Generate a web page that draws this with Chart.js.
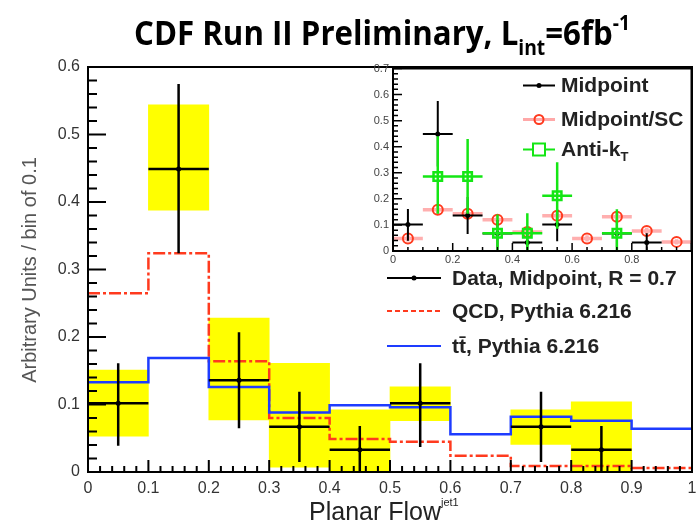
<!DOCTYPE html>
<html lang="en">
<head>
<meta charset="UTF-8">
<title>CDF Run II - Planar Flow</title>
<script src="https://cdn.jsdelivr.net/npm/chart.js"></script>
<style>
    body { margin: 0; background: #fff; }
    #wrap { position: relative; width: 700px; height: 524px; }
    #main { position: absolute; left: 0; top: 0; }
    #inset { position: absolute; left: 355px; top: 60px; }
</style>
</head>
<body>
<div id="wrap">
    <canvas id="main" width="700" height="524"></canvas>
    <canvas id="inset" width="345" height="211"></canvas>
</div>
<script>
// bins of planar flow (width 0.1)
const binLo = [0, 0.1, 0.2, 0.3, 0.4, 0.5, 0.6, 0.7, 0.8, 0.9];
const binCenters = [0.05, 0.15, 0.25, 0.35, 0.45, 0.55, 0.65, 0.75, 0.85, 0.95];
const binWidth = 0.1;

// data, midpoint R=0.7 (null = empty bin)
const dataVal = [0.102, 0.449, 0.136, 0.067, 0.033, 0.102, null, 0.067, 0.033, null];
const statLo  = [0.039, 0.324, 0.065, 0.015, 0.000, 0.037, null, 0.015, 0.000, null];
const statHi  = [0.161, 0.575, 0.207, 0.119, 0.068, 0.161, null, 0.119, 0.068, null];
// yellow systematic band
const systLo  = [0.053, 0.388, 0.077, 0.007, 0.002, 0.076, null, 0.041, 0.002, null];
const systHi  = [0.151, 0.544, 0.228, 0.161, 0.092, 0.126, null, 0.092, 0.104, null];

// Pythia 6.216 predictions
const qcd   = [0.265, 0.324, 0.164, 0.080, 0.049, 0.045, 0.024, 0.009, 0.009, 0.006];
const ttbar = [0.133, 0.169, 0.126, 0.088, 0.099, 0.096, 0.056, 0.082, 0.076, 0.064];

// inset: jet algorithm comparison
const scVal  = [0.048, 0.158, 0.143, 0.120, 0.073, 0.135, 0.048, 0.131, 0.077, 0.035];
const scErr  = [0.012, 0.015, 0.015, 0.015, 0.012, 0.015, 0.012, 0.015, 0.012, 0.010];
const aktVal = [null, 0.286, 0.286, 0.068, 0.068, 0.212, null, 0.068, null, null];
const aktLo  = [null, 0.143, 0.143, 0.000, 0.000, 0.085, null, 0.000, null, null];
const aktHi  = [null, 0.440, 0.430, 0.140, 0.145, 0.340, null, 0.160, null, null];

const mainTicks = [0, 0.1, 0.2, 0.3, 0.4, 0.5, 0.6, 0.7, 0.8, 0.9, 1];

const RED = '#ff3a1e';
const BLUE = '#1e3cff';
const GREEN = '#14e614';
const FONT = '"Liberation Sans", Arial, sans-serif';

function fmt(v) {
    return v === 0 ? '0' : String(+v.toFixed(1));
}

// histogram outline: left edge of every bin plus the right edge of the last one
function stepPoints(vals) {
    const pts = binLo.map((x, i) => ({ x: x, y: vals[i] }));
    pts.push({ x: binLo[binLo.length - 1] + binWidth, y: vals[vals.length - 1] });
    return pts;
}

// horizontal bin-width bar + vertical error bar, separated with gaps
function crossPoints(vals, lo, hi) {
    const pts = [];
    vals.forEach((v, i) => {
        if (v == null) return;
        const c = binCenters[i];
        pts.push({ x: c - binWidth / 2, y: v }, { x: c + binWidth / 2, y: v }, { x: c, y: null });
        pts.push({ x: c, y: lo[i] }, { x: c, y: hi[i] }, { x: c, y: null });
    });
    return pts;
}

function centerPoints(vals) {
    return vals.map((v, i) => ({ x: binCenters[i], y: v })).filter(p => p.y != null);
}

// ROOT style frame with inward ticks
function rootAxes(o) {
    return {
        id: 'rootAxes',
        afterDatasetsDraw(chart) {
            const { ctx, chartArea: a, scales: { x, y } } = chart;
            ctx.save();
            ctx.strokeStyle = '#000';
            ctx.lineWidth = o.tickW;
            ctx.beginPath();
            const nx = Math.round((x.max - x.min) / o.xStep);
            for (let i = 0; i <= nx; i++) {
                const px = x.getPixelForValue(x.min + i * o.xStep);
                const len = i % o.xEvery === 0 ? o.xMajor : o.xMinor;
                ctx.moveTo(px, a.bottom);
                ctx.lineTo(px, a.bottom - len);
            }
            const ny = Math.round((y.max - y.min) / o.yStep);
            for (let i = 0; i <= ny; i++) {
                const py = y.getPixelForValue(y.min + i * o.yStep);
                const len = i % o.yEvery === 0 ? o.yMajor : o.yMinor;
                ctx.moveTo(a.left, py);
                ctx.lineTo(a.left + len, py);
            }
            ctx.stroke();
            ctx.lineWidth = o.frame;
            ctx.strokeRect(a.left, a.top, a.right - a.left, a.bottom - a.top);
            ctx.restore();
        }
    };
}

// fixed axis sizes so the plot frame lands where the reference has it
function fixSize(prop, size) {
    return function (s) {
        s[prop] = size;
        s.paddingTop = 0; s.paddingBottom = 0; s.paddingLeft = 0; s.paddingRight = 0;
    };
}

// draw text pieces (sub/superscripts) in a row
function drawRich(ctx, parts, x, y) {
    let cx = x;
    parts.forEach(p => {
        ctx.font = p.font;
        ctx.fillText(p.t, cx, y + (p.dy || 0));
        cx += ctx.measureText(p.t).width;
    });
    return cx;
}
function richWidth(ctx, parts) {
    let w = 0;
    parts.forEach(p => { ctx.font = p.font; w += ctx.measureText(p.t).width; });
    return w;
}

const mainText = {
    id: 'mainText',
    afterDraw(chart) {
        const ctx = chart.ctx;
        ctx.save();
        ctx.fillStyle = '#000';
        ctx.textBaseline = 'alphabetic';
        ctx.textAlign = 'left';

        // title
        const big = 'bold 34px "Open Sans", sans-serif';
        const small = 'bold 21px "Open Sans", sans-serif';
        const title = [
            { t: 'CDF Run II Preliminary, L', font: big },
            { t: 'int', font: small, dy: 10 },
            { t: '=6fb', font: big },
            { t: '-1', font: small, dy: -15 }
        ];
        const tw = richWidth(ctx, title);
        ctx.translate(134, 45);
        ctx.scale(496 / tw, 1);
        drawRich(ctx, title, 0, 0);
        ctx.setTransform(1, 0, 0, 1, 0, 0);

        // x axis title
        ctx.fillStyle = '#222';
        const xt = [
            { t: 'Planar Flow', font: '25px ' + FONT },
            { t: 'jet1', font: '11px ' + FONT, dy: -14 }
        ];
        drawRich(ctx, xt, 309, 520);

        // y axis title
        ctx.fillStyle = '#555';
        ctx.translate(30, 270);
        ctx.rotate(-Math.PI / 2);
        ctx.textAlign = 'center';
        ctx.textBaseline = 'middle';
        ctx.font = '20px ' + FONT;
        ctx.fillText('Arbitrary Units / bin of 0.1', 0, 0);
        ctx.setTransform(1, 0, 0, 1, 0, 0);

        // legend
        ctx.textAlign = 'left';
        ctx.textBaseline = 'middle';
        ctx.font = 'bold 21px ' + FONT;
        ctx.lineWidth = 2;

        ctx.strokeStyle = '#000';
        ctx.beginPath(); ctx.moveTo(387, 278); ctx.lineTo(441, 278); ctx.stroke();
        ctx.beginPath(); ctx.arc(414, 278, 2.5, 0, Math.PI * 2); ctx.fillStyle = '#000'; ctx.fill();

        ctx.strokeStyle = RED;
        ctx.setLineDash([5, 3]);
        ctx.beginPath(); ctx.moveTo(387, 311); ctx.lineTo(441, 311); ctx.stroke();
        ctx.setLineDash([]);

        ctx.strokeStyle = BLUE;
        ctx.beginPath(); ctx.moveTo(387, 346); ctx.lineTo(441, 346); ctx.stroke();

        ctx.fillStyle = '#222';
        ctx.fillText('Data, Midpoint, R = 0.7', 452, 279);
        ctx.fillText('QCD, Pythia 6.216', 452, 312);
        ctx.fillText('tt\u0304, Pythia 6.216', 452, 347);
        ctx.restore();
    }
};

const insetLegend = {
    id: 'insetLegend',
    afterDraw(chart) {
        const ctx = chart.ctx;
        const top = chart.chartArea.top;
        ctx.save();
        ctx.translate(0, top);
        ctx.textAlign = 'left';
        ctx.textBaseline = 'middle';
        ctx.lineWidth = 2;

        // Midpoint
        ctx.strokeStyle = '#000';
        ctx.beginPath(); ctx.moveTo(168, 17); ctx.lineTo(200, 17); ctx.stroke();
        ctx.fillStyle = '#000';
        ctx.beginPath(); ctx.arc(184, 17, 2.5, 0, Math.PI * 2); ctx.fill();

        // Midpoint/SC
        ctx.strokeStyle = 'rgba(255,110,110,0.6)';
        ctx.lineWidth = 3;
        ctx.beginPath(); ctx.moveTo(168, 51); ctx.lineTo(200, 51); ctx.stroke();
        ctx.strokeStyle = RED;
        ctx.lineWidth = 2;
        ctx.beginPath(); ctx.arc(184, 51, 4.5, 0, Math.PI * 2); ctx.stroke();

        // Anti-kT
        ctx.strokeStyle = GREEN;
        ctx.beginPath(); ctx.moveTo(168, 81); ctx.lineTo(178, 81); ctx.moveTo(190, 81); ctx.lineTo(200, 81); ctx.stroke();
        ctx.strokeRect(178, 75, 12, 12);

        ctx.fillStyle = '#222';
        ctx.font = 'bold 21px ' + FONT;
        ctx.fillText('Midpoint', 206, 18);
        ctx.fillText('Midpoint/SC', 206, 52);
        ctx.fillText('Anti-k', 206, 82);
        const w = ctx.measureText('Anti-k').width;
        ctx.font = 'bold 13px ' + FONT;
        ctx.fillText('T', 206 + w, 89);
        ctx.restore();
    }
};

// main plot
new Chart(document.getElementById('main'), {
    type: 'line',
    data: {
        datasets: [
            {
                type: 'bar',
                label: 'syst',
                data: binCenters.map((c, i) => systHi[i] == null ? null : { x: c, y: [systLo[i], systHi[i]] }).filter(Boolean),
                backgroundColor: '#ffff00',
                borderWidth: 0,
                barPercentage: 1,
                categoryPercentage: 1,
                order: 10
            },
            {
                label: 'QCD, Pythia 6.216',
                data: stepPoints(qcd),
                stepped: true,
                borderColor: RED,
                borderWidth: 2.5,
                borderDash: [12, 3, 3, 3],
                pointRadius: 0,
                order: 3
            },
            {
                label: 'ttbar, Pythia 6.216',
                data: stepPoints(ttbar),
                stepped: true,
                borderColor: BLUE,
                borderWidth: 2.5,
                pointRadius: 0,
                order: 2
            },
            {
                label: 'Data, Midpoint, R = 0.7',
                data: crossPoints(dataVal, statLo, statHi),
                borderColor: '#000',
                borderWidth: 2.5,
                pointRadius: 0,
                spanGaps: false,
                order: 1
            },
            {
                label: 'data centres',
                data: centerPoints(dataVal),
                showLine: false,
                pointRadius: 2.5,
                backgroundColor: '#000',
                borderWidth: 0,
                order: 0
            }
        ]
    },
    options: {
        responsive: false,
        animation: false,
        layout: { padding: { left: 0, right: 8, top: 67, bottom: 0 } },
        plugins: { legend: { display: false }, tooltip: { enabled: false } },
        scales: {
            x: {
                type: 'linear', min: 0, max: 1, offset: false,
                grid: { display: false, drawTicks: false },
                border: { display: false },
                afterBuildTicks: s => { s.ticks = mainTicks.map(v => ({ value: v })); },
                ticks: {
                    padding: 7, color: '#333', maxRotation: 0, autoSkip: false,
                    font: { family: FONT, size: 16 },
                    callback: v => fmt(v)
                },
                afterFit: fixSize('height', 52)
            },
            y: {
                type: 'linear', min: 0, max: 0.6,
                grid: { display: false, drawTicks: false },
                border: { display: false },
                ticks: {
                    stepSize: 0.1, padding: 8, color: '#333',
                    font: { family: FONT, size: 16 },
                    callback: v => fmt(v)
                },
                afterFit: fixSize('width', 88)
            }
        }
    },
    plugins: [
        rootAxes({ frame: 2, tickW: 2, xStep: 0.02, xEvery: 5, xMajor: 12, xMinor: 6,
                   yStep: 0.02, yEvery: 5, yMajor: 18, yMinor: 9 }),
        mainText
    ]
});

// inset: Midpoint vs Midpoint/SC vs Anti-kT
new Chart(document.getElementById('inset'), {
    type: 'line',
    data: {
        datasets: [
            {
                label: 'Midpoint/SC errors',
                data: crossPoints(scVal, scVal.map((v, i) => v - scErr[i]), scVal.map((v, i) => v + scErr[i])),
                borderColor: 'rgba(255,110,110,0.55)',
                borderWidth: 3.5,
                pointRadius: 0,
                spanGaps: false,
                order: 6
            },
            {
                label: 'Midpoint/SC',
                data: centerPoints(scVal),
                showLine: false,
                pointStyle: 'circle',
                pointRadius: 5,
                borderColor: RED,
                borderWidth: 2,
                backgroundColor: 'rgba(255,255,255,0)',
                order: 5
            },
            {
                label: 'Midpoint',
                data: crossPoints(dataVal, statLo, statHi),
                borderColor: '#000',
                borderWidth: 2,
                pointRadius: 0,
                spanGaps: false,
                order: 4
            },
            {
                label: 'Midpoint centres',
                data: centerPoints(dataVal),
                showLine: false,
                pointRadius: 2.5,
                backgroundColor: '#000',
                borderWidth: 0,
                order: 3
            },
            {
                label: 'Anti-kT errors',
                data: crossPoints(aktVal, aktLo, aktHi),
                borderColor: GREEN,
                borderWidth: 2.5,
                pointRadius: 0,
                spanGaps: false,
                order: 2
            },
            {
                label: 'Anti-kT',
                data: centerPoints(aktVal),
                showLine: false,
                pointStyle: 'rect',
                pointRadius: 6,
                borderColor: GREEN,
                borderWidth: 2.5,
                backgroundColor: 'rgba(255,255,255,0)',
                order: 1
            }
        ]
    },
    options: {
        responsive: false,
        animation: false,
        layout: { padding: { left: 0, right: 8, top: 2, bottom: 0 } },
        plugins: { legend: { display: false }, tooltip: { enabled: false } },
        scales: {
            x: {
                type: 'linear', min: 0, max: 1, offset: false,
                grid: { display: false, drawTicks: false },
                border: { display: false },
                ticks: {
                    stepSize: 0.2, padding: 2, color: '#444', maxRotation: 0, autoSkip: false,
                    font: { family: FONT, size: 11 },
                    callback: v => (v >= 1 ? '' : fmt(v))
                },
                afterFit: fixSize('height', 20)
            },
            y: {
                type: 'linear', min: 0, max: 0.7,
                grid: { display: false, drawTicks: false },
                border: { display: false },
                ticks: {
                    stepSize: 0.1, padding: 4, color: '#444',
                    font: { family: FONT, size: 11 },
                    callback: v => fmt(v)
                },
                afterFit: fixSize('width', 38)
            }
        }
    },
    plugins: [
        rootAxes({ frame: 2, tickW: 1.5, xStep: 0.05, xEvery: 4, xMajor: 8, xMinor: 4,
                   yStep: 0.02, yEvery: 5, yMajor: 9, yMinor: 5 }),
        insetLegend
    ]
});
</script>
</body>
</html>
